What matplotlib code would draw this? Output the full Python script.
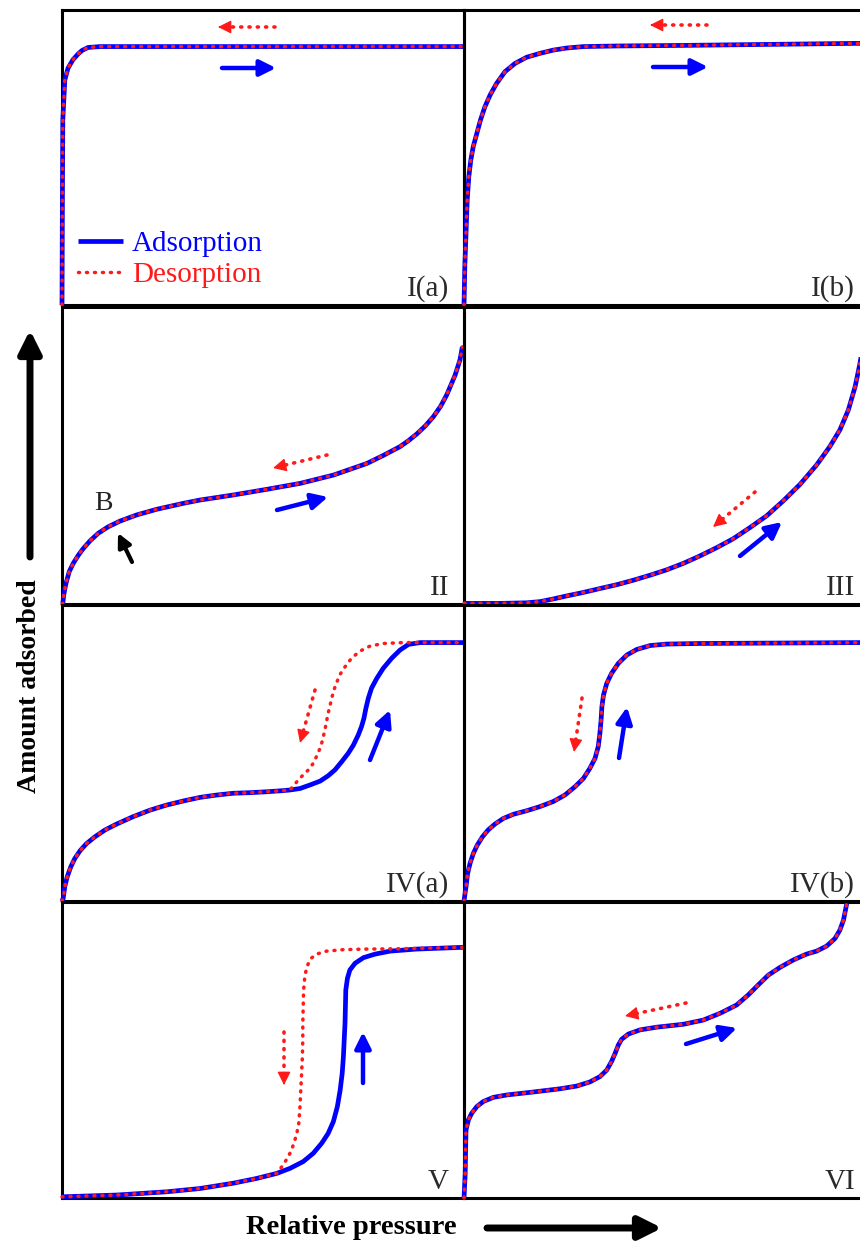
import matplotlib

matplotlib.use("Agg")
import matplotlib.pyplot as plt  # noqa: E402

plt.rcParams["font.family"] = ["Liberation Serif", "DejaVu Serif"]

W, H = 860, 1246

# digitised isotherms: x = relative pressure (0..1), y = amount adsorbed (0..1)
ia_x = [0.0, 0.001, 0.002, 0.007, 0.015, 0.027, 0.040, 0.050, 0.065, 0.095, 1.0]
ia_y = [0.0, 0.356, 0.627, 0.763, 0.803, 0.831, 0.851, 0.863, 0.873, 0.876, 0.876]

ib_x = [0.0, 0.002, 0.005, 0.008, 0.012, 0.017, 0.023, 0.032, 0.041, 0.052, 0.065,
        0.081, 0.102, 0.127, 0.156, 0.189, 0.222, 0.255, 0.297, 0.380, 0.546, 0.985, 1.0]
ib_y = [0.0, 0.130, 0.243, 0.356, 0.435, 0.492, 0.537, 0.582, 0.627, 0.672, 0.712,
        0.751, 0.791, 0.819, 0.840, 0.853, 0.864, 0.871, 0.876, 0.878, 0.880, 0.887, 0.887]

ii_x = [0.0, 0.002, 0.005, 0.010, 0.018, 0.028, 0.041, 0.053, 0.070, 0.090, 0.115,
        0.144, 0.186, 0.236, 0.302, 0.343, 0.426, 0.509, 0.592, 0.675, 0.758, 0.799,
        0.841, 0.862, 0.883, 0.904, 0.924, 0.942, 0.957, 0.978, 0.990, 0.996]
ii_y = [0.0, 0.002, 0.036, 0.070, 0.109, 0.137, 0.165, 0.187, 0.213, 0.238, 0.260,
        0.279, 0.300, 0.319, 0.339, 0.350, 0.367, 0.386, 0.406, 0.434, 0.473, 0.500,
        0.530, 0.550, 0.573, 0.600, 0.631, 0.666, 0.704, 0.771, 0.822, 0.866]

iii_x = [0.0, 0.090, 0.156, 0.189, 0.222, 0.255, 0.297, 0.338, 0.380, 0.421, 0.463,
         0.504, 0.546, 0.587, 0.629, 0.670, 0.711, 0.753, 0.794, 0.836, 0.877, 0.910,
         0.935, 0.956, 0.973, 0.985, 1.0]
iii_y = [0.002, 0.002, 0.004, 0.008, 0.017, 0.027, 0.039, 0.052, 0.065, 0.080, 0.097,
         0.115, 0.137, 0.162, 0.190, 0.220, 0.257, 0.297, 0.347, 0.403, 0.468, 0.530,
         0.586, 0.653, 0.732, 0.810, 0.93]

iva_ads_x = [0.0, 0.003, 0.007, 0.013, 0.022, 0.032, 0.045, 0.061, 0.082, 0.107, 0.136,
             0.177, 0.219, 0.260, 0.302, 0.343, 0.385, 0.426, 0.468, 0.509, 0.551,
             0.567, 0.592, 0.617, 0.642, 0.662, 0.679, 0.696, 0.712, 0.725, 0.737,
             0.745, 0.751, 0.756, 0.762, 0.770, 0.783, 0.799, 0.820, 0.841, 0.862,
             0.891, 1.0]
iva_ads_y = [0.0, 0.009, 0.049, 0.082, 0.116, 0.144, 0.170, 0.194, 0.217, 0.240, 0.260,
             0.285, 0.307, 0.324, 0.338, 0.350, 0.358, 0.364, 0.366, 0.369, 0.373,
             0.375, 0.380, 0.392, 0.405, 0.423, 0.443, 0.471, 0.499, 0.527, 0.561,
             0.589, 0.617, 0.651, 0.685, 0.719, 0.752, 0.786, 0.820, 0.848, 0.867,
             0.873, 0.873]
iva_des_x = [0.0, 0.003, 0.007, 0.013, 0.022, 0.032, 0.045, 0.061, 0.082, 0.107, 0.136,
             0.177, 0.219, 0.260, 0.302, 0.343, 0.385, 0.426, 0.468, 0.509, 0.551,
             0.567, 0.588, 0.600, 0.613, 0.625, 0.633, 0.640, 0.646, 0.650, 0.654,
             0.658, 0.662, 0.667, 0.671, 0.675, 0.681, 0.691, 0.704, 0.720, 0.741,
             0.766, 0.799, 0.849, 1.0]
iva_des_y = [0.0, 0.009, 0.049, 0.082, 0.116, 0.144, 0.170, 0.194, 0.217, 0.240, 0.260,
             0.285, 0.307, 0.324, 0.338, 0.350, 0.358, 0.364, 0.366, 0.369, 0.373,
             0.375, 0.409, 0.426, 0.443, 0.465, 0.488, 0.510, 0.533, 0.555, 0.578,
             0.606, 0.634, 0.662, 0.685, 0.707, 0.730, 0.764, 0.791, 0.820, 0.844,
             0.861, 0.870, 0.873, 0.873]

ivb_x = [0.0, 0.005, 0.009, 0.015, 0.023, 0.033, 0.046, 0.060, 0.077, 0.098, 0.123,
         0.156, 0.189, 0.222, 0.251, 0.276, 0.297, 0.313, 0.326, 0.334, 0.338, 0.341,
         0.343, 0.347, 0.355, 0.367, 0.384, 0.405, 0.430, 0.463, 0.504, 0.587, 0.985, 1.0]
ivb_y = [0.0, 0.048, 0.093, 0.127, 0.160, 0.189, 0.217, 0.240, 0.260, 0.279, 0.293,
         0.305, 0.319, 0.336, 0.358, 0.386, 0.414, 0.448, 0.482, 0.522, 0.566, 0.611,
         0.656, 0.696, 0.735, 0.769, 0.803, 0.831, 0.850, 0.863, 0.868, 0.870, 0.873, 0.873]

v_ads_x = [0.0, 0.136, 0.261, 0.343, 0.426, 0.484, 0.534, 0.567, 0.600, 0.625, 0.646,
           0.662, 0.675, 0.685, 0.692, 0.697, 0.700, 0.702, 0.704, 0.705, 0.706, 0.710,
           0.716, 0.729, 0.750, 0.779, 0.816, 0.882, 1.0]
v_ads_y = [0.004, 0.010, 0.021, 0.032, 0.050, 0.066, 0.083, 0.100, 0.123, 0.151, 0.185,
           0.218, 0.258, 0.309, 0.365, 0.421, 0.477, 0.534, 0.590, 0.646, 0.703, 0.742,
           0.770, 0.793, 0.812, 0.824, 0.834, 0.841, 0.847]
v_des_x = [0.0, 0.136, 0.261, 0.343, 0.426, 0.484, 0.534, 0.547, 0.559, 0.569, 0.577,
           0.584, 0.589, 0.592, 0.594, 0.596, 0.598, 0.599, 0.599, 0.600, 0.601, 0.604,
           0.609, 0.619, 0.633, 0.658, 0.700, 0.758, 0.841, 1.0]
v_des_y = [0.004, 0.010, 0.021, 0.032, 0.050, 0.066, 0.083, 0.106, 0.131, 0.156, 0.185,
           0.218, 0.252, 0.309, 0.365, 0.421, 0.477, 0.534, 0.590, 0.646, 0.703, 0.748,
           0.781, 0.809, 0.824, 0.834, 0.839, 0.841, 0.842, 0.847]

vi_x = [0.0, 0.003, 0.004, 0.005, 0.011, 0.019, 0.032, 0.048, 0.073, 0.106, 0.172,
        0.239, 0.280, 0.313, 0.338, 0.355, 0.367, 0.376, 0.384, 0.392, 0.409, 0.438,
        0.479, 0.546, 0.595, 0.637, 0.678, 0.707, 0.732, 0.757, 0.786, 0.819, 0.852,
        0.877, 0.902, 0.923, 0.935, 0.944, 0.949, 0.952]
vi_y = [0.0, 0.083, 0.162, 0.230, 0.264, 0.286, 0.309, 0.326, 0.340, 0.348, 0.358,
        0.369, 0.378, 0.392, 0.410, 0.432, 0.461, 0.489, 0.517, 0.536, 0.554, 0.568,
        0.577, 0.587, 0.601, 0.624, 0.652, 0.686, 0.720, 0.753, 0.779, 0.804, 0.824,
        0.834, 0.851, 0.877, 0.905, 0.939, 0.973, 0.995]

# (label, column, row, adsorption x/y, desorption x/y)
PANELS = [
    ("I(a)", 0, 0, ia_x, ia_y, ia_x, ia_y),
    ("I(b)", 1, 0, ib_x, ib_y, ib_x, ib_y),
    ("II", 0, 1, ii_x, ii_y, ii_x, ii_y),
    ("III", 1, 1, iii_x, iii_y, iii_x, iii_y),
    ("IV(a)", 0, 2, iva_ads_x, iva_ads_y, iva_des_x, iva_des_y),
    ("IV(b)", 1, 2, ivb_x, ivb_y, ivb_x, ivb_y),
    ("V", 0, 3, v_ads_x, v_ads_y, v_des_x, v_des_y),
    ("VI", 1, 3, vi_x, vi_y, vi_x, vi_y),
]

# panel frames in image pixels (left, top, width, height)
COL_LEFT = [62, 464]
ROW_BOX = [(10, 295), (307, 297), (605, 296), (902, 296)]

# direction arrows, image pixels: (x0, y0, x1, y1, kind)
ARROWS = [
    (275, 27, 218, 27, "des"), (222, 68, 276, 68, "ads"),
    (707, 25, 650, 25, "des"), (653, 67, 708, 67, "ads"),
    (327, 455, 273, 468, "des"), (277, 510, 328, 497, "ads"),
    (132, 562, 118, 533, "blk"),
    (755, 492, 713, 527, "des"), (740, 556, 782, 522, "ads"),
    (315, 690, 300, 743, "des"), (370, 760, 390, 710, "ads"),
    (582, 698, 574, 752, "des"), (619, 758, 627, 707, "ads"),
    (284, 1032, 284, 1085, "des"), (363, 1083, 363, 1032, "ads"),
    (686, 1003, 625, 1016, "des"), (686, 1044, 737, 1028, "ads"),
]

RED = "#ff1a1a"
BLUE = "#0000ff"
DOTS = (0, (0.3, 2.0))

fig = plt.figure(figsize=(W / 100, H / 100), dpi=100)
fig.patch.set_facecolor("white")

axes = []
for label, col, row, ax_x, ax_y, dx, dy in PANELS:
    top, h = ROW_BOX[row]
    left = COL_LEFT[col]
    ax = fig.add_axes([left / W, 1 - (top + h) / H, 402 / W, h / H])
    ax.patch.set_visible(False)
    ax.set_xlim(0, 1)
    ax.set_ylim(0, 1)
    ax.set_xticks([])
    ax.set_yticks([])
    for s in ax.spines.values():
        s.set_linewidth(2.2)
        s.set_color("black")
    ax.plot(ax_x, ax_y, color=BLUE, lw=3.4, solid_joinstyle="round",
            solid_capstyle="butt", clip_on=False, zorder=3, label="Adsorption")
    ax.plot(dx, dy, color=RED, lw=2.5, linestyle=DOTS, dash_capstyle="round",
            clip_on=False, zorder=4, label="Desorption")
    xr = 0.963 if col == 0 else 0.973
    ax.text(xr, 0.03, label, transform=ax.transAxes, ha="right", va="baseline",
            fontsize=21, color="#2a2a2a")
    axes.append(ax)

leg = axes[0].legend(loc="center left", bbox_to_anchor=(0.04, 0.154), frameon=False,
                     borderpad=0, borderaxespad=0, handlelength=1.55,
                     handletextpad=0.3, labelspacing=0.15, fontsize=21)
leg.get_texts()[0].set_color(BLUE)
leg.get_texts()[1].set_color(RED)

top_ax = axes[-1]


def arrow(x0, y0, x1, y1, **props):
    top_ax.annotate("", xy=(x1, H - y1), xytext=(x0, H - y0),
                    xycoords="figure pixels", textcoords="figure pixels",
                    arrowprops=dict(shrinkA=0, shrinkB=0, **props),
                    annotation_clip=False)


for x0, y0, x1, y1, kind in ARROWS:
    if kind == "ads":
        arrow(x0, y0, x1, y1, arrowstyle="-|>", color=BLUE, lw=3.2, mutation_scale=24)
    elif kind == "blk":
        arrow(x0, y0, x1, y1, arrowstyle="-|>", color="black", lw=3.0,
              mutation_scale=20)
    else:
        # dotted shaft plus a solid head
        fx = x0 + (x1 - x0) * 0.8
        fy = y0 + (y1 - y0) * 0.8
        arrow(x0, y0, fx, fy, arrowstyle="-", color=RED, lw=2.6, linestyle=DOTS,
              capstyle="round")
        bx = x1 - (x1 - x0) * 0.05
        by = y1 - (y1 - y0) * 0.05
        arrow(bx, by, x1, y1, arrowstyle="-|>", color=RED, lw=1.0, mutation_scale=20)

top_ax.text(103, H - 503, "B", transform=None, ha="center", va="center",
            fontsize=20, color="#222222")

# axis titles with big arrows
fig.text(30 / W, 1 - 686 / H, "Amount adsorbed", rotation=90, ha="center",
         va="center", fontsize=20, fontweight="bold")
fig.text(351 / W, 1 - 1228 / H, "Relative pressure", ha="center", va="center",
         fontsize=20.5, fontweight="bold")
arrow(30, 557, 30, 330, arrowstyle="-|>", color="black", lw=5, mutation_scale=34)
arrow(487, 1228, 662, 1228, arrowstyle="-|>", color="black", lw=5, mutation_scale=34)

fig.savefig("out.png", dpi=100)
